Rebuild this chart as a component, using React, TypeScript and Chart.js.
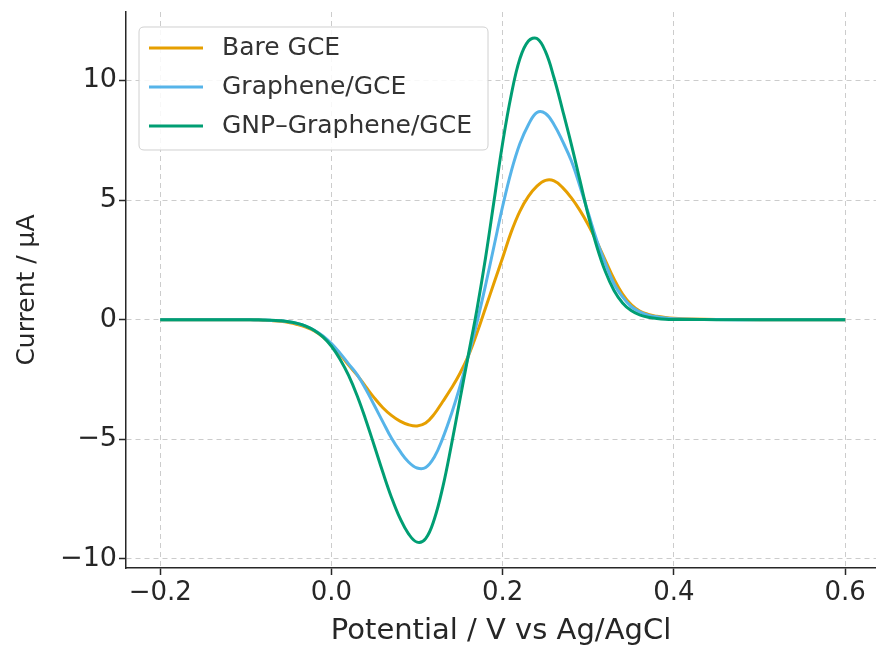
import React, { useEffect, useRef } from 'react';
import { Chart, registerables } from 'chart.js';

Chart.register(...registerables);

// Potential (V vs Ag/AgCl)
const potential = [
  -0.2, -0.15, -0.12, -0.1, -0.09, -0.08, -0.07, -0.06, -0.05, -0.04, -0.03, -0.02, -0.01,
  0.0, 0.01, 0.02, 0.03, 0.04, 0.05, 0.06, 0.07, 0.08, 0.09,
  0.1, 0.11, 0.12, 0.13, 0.14, 0.15, 0.16, 0.17, 0.18, 0.19,
  0.2, 0.21, 0.22, 0.23, 0.24, 0.25, 0.26, 0.27, 0.28, 0.29,
  0.3, 0.31, 0.32, 0.33, 0.34, 0.35, 0.36, 0.37, 0.38, 0.39,
  0.4, 0.42, 0.45, 0.5, 0.55, 0.6,
];

// Current (µA)
const bareGCE = [
  0, 0, 0, -0.005, -0.01, -0.02, -0.04, -0.07, -0.12, -0.2, -0.31, -0.47, -0.72,
  -1.05, -1.45, -1.9, -2.32, -2.8, -3.27, -3.68, -4.0, -4.24, -4.39,
  -4.44, -4.32, -3.95, -3.42, -2.87, -2.25, -1.5, -0.55, 0.5, 1.55,
  2.6, 3.67, 4.53, 5.15, 5.58, 5.82, 5.8, 5.52, 5.1, 4.58,
  3.96, 3.25, 2.47, 1.7, 1.07, 0.63, 0.36, 0.22, 0.14, 0.09,
  0.06, 0.03, 0.01, 0, 0, 0,
];

const grapheneGCE = [
  0, 0, 0, -0.005, -0.01, -0.015, -0.03, -0.05, -0.09, -0.16, -0.27, -0.44, -0.68,
  -1.0, -1.4, -1.85, -2.3, -2.9, -3.58, -4.27, -4.95, -5.5, -5.95,
  -6.2, -6.18, -5.75, -4.95, -3.95, -2.8, -1.5, -0.1, 1.45, 3.1,
  4.75, 6.2, 7.35, 8.15, 8.66, 8.62, 8.15, 7.45, 6.65, 5.6,
  4.45, 3.3, 2.35, 1.5, 0.95, 0.55, 0.33, 0.19, 0.12, 0.07,
  0.04, 0.015, 0.005, 0, 0, 0,
];

const gnpGrapheneGCE = [
  0, 0, 0, -0.002, -0.005, -0.01, -0.02, -0.045, -0.085, -0.155, -0.27, -0.45, -0.72,
  -1.11, -1.65, -2.33, -3.18, -4.18, -5.27, -6.38, -7.42, -8.3, -8.95,
  -9.3, -9.15, -8.35, -7.0, -5.25, -3.35, -1.45, 0.45, 2.6, 5.0,
  7.4, 9.4, 10.9, 11.65, 11.75, 11.2, 10.1, 8.75, 7.35, 5.85,
  4.35, 3.05, 2.0, 1.22, 0.7, 0.38, 0.2, 0.1, 0.05, 0.02,
  0.01, 0.005, 0, 0, 0, 0,
];

const seriesLabels = ['Bare GCE', 'Graphene/GCE', 'GNP–Graphene/GCE'];
const seriesColors = ['#E69F00', '#56B4E9', '#009E73'];

const xTicks = [-0.2, 0.0, 0.2, 0.4, 0.6];
const yTicks = [-10, -5, 0, 5, 10];

const xTitle = 'Potential / V vs Ag/AgCl';
const yTitle = 'Current / µA';

const FAMILY = "'DejaVu Sans', sans-serif";
const TEXT = '#262626';

const fmt = (v: number, digits: number) => {
  const s = Math.abs(v).toFixed(digits);
  return v < -1e-9 ? '\u2212' + s : s;
};

const insideLegend = {
  id: 'insideLegend',
  afterDraw(chart: any) {
    const { ctx, chartArea } = chart;
    const x0 = chartArea.left + 13;
    const y0 = chartArea.top + 15;
    const w = 349;
    const h = 123;
    const r = 5;
    ctx.save();
    ctx.beginPath();
    ctx.moveTo(x0 + r, y0);
    ctx.lineTo(x0 + w - r, y0);
    ctx.quadraticCurveTo(x0 + w, y0, x0 + w, y0 + r);
    ctx.lineTo(x0 + w, y0 + h - r);
    ctx.quadraticCurveTo(x0 + w, y0 + h, x0 + w - r, y0 + h);
    ctx.lineTo(x0 + r, y0 + h);
    ctx.quadraticCurveTo(x0, y0 + h, x0, y0 + h - r);
    ctx.lineTo(x0, y0 + r);
    ctx.quadraticCurveTo(x0, y0, x0 + r, y0);
    ctx.closePath();
    ctx.fillStyle = 'rgba(255,255,255,0.85)';
    ctx.fill();
    ctx.lineWidth = 1;
    ctx.strokeStyle = '#d0d0d0';
    ctx.stroke();
    chart.data.datasets.forEach((ds: any, i: number) => {
      const cy = y0 + 21 + i * 39;
      ctx.beginPath();
      ctx.moveTo(x0 + 10, cy);
      ctx.lineTo(x0 + 64, cy);
      ctx.strokeStyle = ds.borderColor;
      ctx.lineWidth = 3;
      ctx.stroke();
      ctx.font = `25px ${FAMILY}`;
      ctx.fillStyle = '#333333';
      ctx.textBaseline = 'middle';
      ctx.textAlign = 'left';
      ctx.fillText(ds.label, x0 + 83, cy + 1);
    });
    ctx.restore();
  },
};

export default function App() {
  const canvasRef = useRef<HTMLCanvasElement | null>(null);

  useEffect(() => {
    const canvas = canvasRef.current;
    if (!canvas) return;
    const series = [bareGCE, grapheneGCE, gnpGrapheneGCE];
    const chart = new Chart(canvas, {
      type: 'line',
      data: {
        datasets: series.map((vals, i) => ({
          label: seriesLabels[i],
          data: potential.map((x, j) => ({ x, y: vals[j] })),
          borderColor: seriesColors[i],
          backgroundColor: seriesColors[i],
          borderWidth: 3,
          pointRadius: 0,
          fill: false,
          tension: 0.4,
          order: 2 - i,
        })),
      },
      options: {
        animation: false,
        responsive: false,
        maintainAspectRatio: false,
        devicePixelRatio: 1,
        layout: { padding: { top: 0, right: 0, left: 0, bottom: 0 } },
        plugins: {
          legend: { display: false },
          tooltip: { enabled: false },
        },
        scales: {
          x: {
            type: 'linear',
            min: -0.24,
            max: 0.636,
            afterFit: (s: any) => {
              s.height = 78;
            },
            afterBuildTicks: (s: any) => {
              s.ticks = xTicks.map((v) => ({ value: v }));
            },
            ticks: {
              font: { family: FAMILY, size: 26 },
              color: TEXT,
              padding: 3,
              maxRotation: 0,
              autoSkip: false,
              callback: (v: any) => fmt(Number(v), 1),
            },
            grid: {
              color: '#cccccc',
              lineWidth: 1,
              tickColor: '#262626',
              tickLength: 7,
              tickWidth: 1.5,
            },
            border: { display: true, color: '#262626', width: 1.5, dash: [5, 4] },
            title: {
              display: true,
              text: xTitle,
              font: { family: FAMILY, size: 29 },
              color: TEXT,
              padding: { top: 0, bottom: -3 },
            },
          },
          y: {
            type: 'linear',
            min: -10.38,
            max: 12.86,
            afterFit: (s: any) => {
              s.width = 126;
            },
            afterBuildTicks: (s: any) => {
              s.ticks = yTicks.map((v) => ({ value: v }));
            },
            ticks: {
              font: { family: FAMILY, size: 27, lineHeight: 0.74 },
              color: TEXT,
              padding: 2,
              autoSkip: false,
              callback: (v: any) => fmt(Number(v), 0),
            },
            grid: {
              color: '#cccccc',
              lineWidth: 1,
              tickColor: '#262626',
              tickLength: 7,
              tickWidth: 1.5,
            },
            border: { display: true, color: '#262626', width: 1.5, dash: [5, 4] },
            title: {
              display: true,
              text: yTitle,
              font: { family: FAMILY, size: 25 },
              color: TEXT,
              padding: { top: 12, bottom: 0 },
            },
          },
        },
      },
      plugins: [insideLegend],
    });
    return () => chart.destroy();
  }, []);

  return (
    <div style={{ position: 'fixed', left: 0, top: 0, width: 876, height: 646, background: '#ffffff' }}>
      <canvas ref={canvasRef} width={876} height={646} style={{ display: 'block', width: 876, height: 646 }} />
    </div>
  );
}
